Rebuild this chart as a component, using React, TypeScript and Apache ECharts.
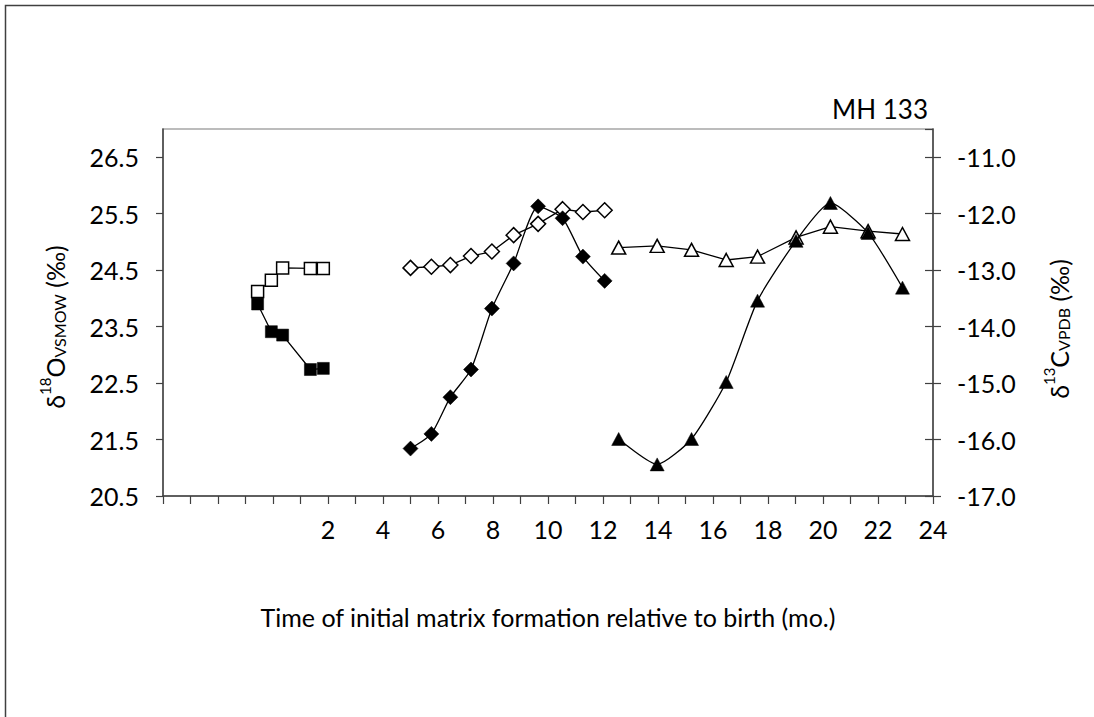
import React, { useEffect, useRef } from "react";
import * as echarts from "echarts";

// x positions (months relative to birth)
const xSquares = [-0.56, -0.06, 0.35, 1.36, 1.83];
const xDiamonds = [5.0, 5.76, 6.45, 7.2, 7.96, 8.75, 9.64, 10.53, 11.27, 12.06];
const xTriangles = [12.57, 13.97, 15.22, 16.48, 17.62, 19.02, 20.27, 21.64, 22.89];

// δ18O (left axis) – filled markers
const o18Squares = [23.9, 23.41, 23.35, 22.74, 22.76];
const o18Diamonds = [21.34, 21.6, 22.25, 22.74, 23.82, 24.62, 25.63, 25.42, 24.74, 24.31];
const o18Triangles = [21.51, 21.06, 21.51, 22.52, 23.96, 25.02, 25.69, 25.16, 24.19];

// δ13C (right axis) – open markers
const c13Squares = [-13.38, -13.18, -12.96, -12.97, -12.97];
const c13Diamonds = [-12.96, -12.94, -12.91, -12.75, -12.67, -12.38, -12.18, -11.92, -11.97, -11.94];
const c13Triangles = [-12.6, -12.57, -12.64, -12.82, -12.76, -12.42, -12.23, -12.31, -12.36];

const xAxisTitle = "Time of initial matrix formation relative to birth (mo.)";
const chartTitle = "MH 133";

const FONT = "Lato, 'Open Sans', sans-serif";
const AX = "#404040";

const pair = (xs: number[], ys: number[]) => xs.map((x, i) => [x, ys[i]]);

export default function App() {
  const ref = useRef<HTMLDivElement>(null);
  useEffect(() => {
    if (!ref.current) return;
    const chart = echarts.init(ref.current, undefined, { renderer: "svg" });

    const mk = (
      name: string,
      data: number[][],
      yAxisIndex: number,
      symbol: string,
      size: number | number[],
      filled: boolean,
      smooth: number | boolean
    ) => ({
      name,
      type: "line",
      yAxisIndex,
      data,
      symbol,
      symbolSize: size,
      smooth,
      showSymbol: true,
      lineStyle: { color: "#000", width: 1.3 },
      itemStyle: {
        color: filled ? "#000" : "#fff",
        borderColor: "#000",
        borderWidth: filled ? 0.5 : 1.5,
        opacity: 1,
      },
      z: filled ? 3 : 2,
      emphasis: { disabled: true },
    });

    const richName = {
      a: { fontSize: 25, fontFamily: FONT, color: "#000", verticalAlign: "bottom", lineHeight: 30 },
      sup: { fontSize: 15, fontFamily: FONT, color: "#000", verticalAlign: "top", lineHeight: 30 },
      sub: { fontSize: 16, fontFamily: FONT, color: "#000", verticalAlign: "bottom", lineHeight: 24 },
    };

    const labelStyle = { fontSize: 25, fontFamily: FONT, color: "#000" };

    chart.setOption({
      animation: false,
      backgroundColor: "#fff",
      grid: {
        left: 163,
        top: 129,
        width: 770,
        height: 367,
        show: true,
        borderColor: "#a6a6a6",
        borderWidth: 1.5,
        backgroundColor: "transparent",
      },
      xAxis: {
        type: "value",
        min: -4,
        max: 24,
        interval: 1,
        axisLine: { show: true, onZero: false, lineStyle: { color: AX, width: 1.5 } },
        axisTick: { show: true, length: 8, lineStyle: { color: AX, width: 1.2 } },
        splitLine: { show: false },
        axisLabel: {
          ...labelStyle,
          margin: 20,
          formatter: (v: number) => (v >= 2 && v % 2 === 0 ? String(v) : ""),
        },
      },
      yAxis: [
        {
          type: "value",
          position: "left",
          min: 20.5,
          max: 27,
          interval: 1,
          axisLine: { show: true, onZero: false, lineStyle: { color: AX, width: 1.5 } },
          axisTick: { show: true, length: 7, lineStyle: { color: AX, width: 1.2 } },
          splitLine: { show: false },
          axisLabel: {
            ...labelStyle,
            margin: 24,
            showMaxLabel: false,
            formatter: (v: number) => v.toFixed(1),
          },
        },
        {
          type: "value",
          position: "right",
          min: -17,
          max: -10.5,
          interval: 1,
          axisLine: { show: true, onZero: false, lineStyle: { color: AX, width: 1.5 } },
          axisTick: { show: true, length: 8, lineStyle: { color: AX, width: 1.2 } },
          splitLine: { show: false },
          axisLabel: {
            ...labelStyle,
            margin: 24,
            showMaxLabel: false,
            formatter: (v: number) => v.toFixed(1),
          },
        },
        {
          type: "value",
          position: "right",
          min: -17,
          max: -10.5,
          interval: 1,
          axisLine: { show: false, onZero: false },
          axisTick: { show: true, inside: true, length: 8, lineStyle: { color: AX, width: 1.2 } },
          splitLine: { show: false },
          axisLabel: { show: false },
        },
      ],
      graphic: [
        {
          type: "rect",
          shape: { x: 5.5, y: 5.5, width: 1300, height: 900 },
          style: { fill: "none", stroke: "#404040", lineWidth: 1.5 },
          silent: true,
          z: 0,
        },
        {
          type: "text",
          x: 928,
          y: 122,
          style: {
            text: chartTitle,
            fontSize: 26,
            fontFamily: FONT,
            fill: "#000",
            align: "right",
            verticalAlign: "bottom",
          },
        },
        {
          type: "text",
          x: 548,
          y: 617,
          style: {
            text: xAxisTitle,
            fontSize: 25,
            fontFamily: FONT,
            fill: "#000",
            align: "center",
            verticalAlign: "middle",
          },
        },
        {
          type: "text",
          x: 52,
          y: 327,
          rotation: Math.PI / 2,
          style: {
            text: "{a|δ}{sup|18}{a|O}{sub|VSMOW}{a| (‰)}",
            rich: richName,
            align: "center",
            verticalAlign: "middle",
          },
        },
        {
          type: "text",
          x: 1056,
          y: 329,
          rotation: Math.PI / 2,
          style: {
            text: "{a|δ}{sup|13}{a|C}{sub|VPDB}{a| (‰)}",
            rich: richName,
            align: "center",
            verticalAlign: "middle",
          },
        },
      ],
      series: [
        mk("δ18O squares", pair(xSquares, o18Squares), 0, "rect", 12, true, false),
        mk("δ13C squares", pair(xSquares, c13Squares), 1, "rect", 12, false, false),
        mk("δ18O diamonds", pair(xDiamonds, o18Diamonds), 0, "diamond", 15, true, 0.2),
        mk("δ13C diamonds", pair(xDiamonds, c13Diamonds), 1, "diamond", 15, false, false),
        mk("δ18O triangles", pair(xTriangles, o18Triangles), 0, "triangle", [14, 13], true, 0.2),
        mk("δ13C triangles", pair(xTriangles, c13Triangles), 1, "triangle", [14, 13], false, false),
      ],
    });
    return () => chart.dispose();
  }, []);

  return (
    <div
      ref={ref}
      style={{ position: "absolute", left: 0, top: 0, width: 1094, height: 717, background: "#fff" }}
    />
  );
}
